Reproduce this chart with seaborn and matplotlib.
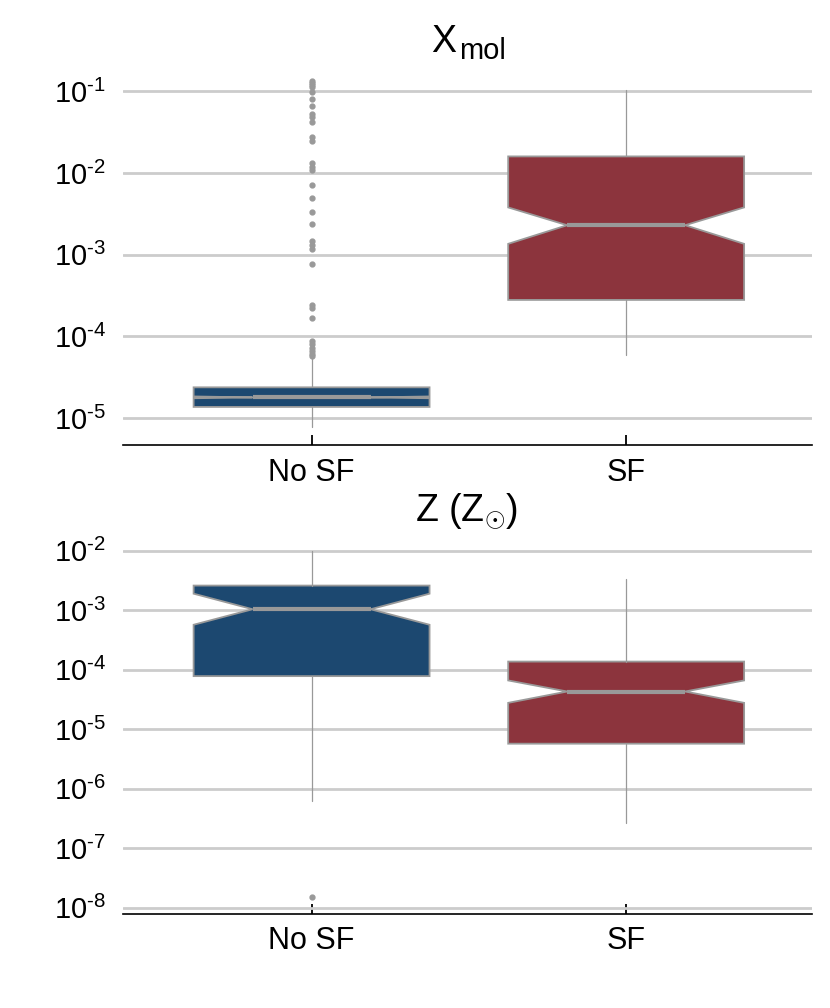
import math
import matplotlib
matplotlib.use("Agg")
import matplotlib.pyplot as plt
import matplotlib.ticker as mticker
import seaborn as sns

# groups and colours
groups = ["No SF", "SF"]
group_colors = ["#1c4870", "#8c343d"]

# X_mol box statistics
xmol_median = [1.79e-5, 2.3e-3]
xmol_q1 = [1.37e-5, 2.8e-4]
xmol_q3 = [2.38e-5, 1.6e-2]
xmol_whislo = [7.8e-6, 5.9e-5]
xmol_whishi = [5.4e-5, 0.105]
xmol_cilo = [1.75e-5, 1.36e-3]
xmol_cihi = [1.84e-5, 3.8e-3]
xmol_fliers_nosf = [0.135, 0.128, 0.12, 0.113, 0.098, 0.080, 0.066, 0.053, 0.048,
                    0.042, 0.028, 0.025, 0.0132, 0.012, 0.011, 0.0071, 0.0050,
                    0.0033, 0.0024, 0.00147, 0.0013, 0.00117, 7.7e-4, 2.4e-4,
                    2.2e-4, 1.7e-4, 8.9e-5, 8.0e-5, 7.2e-5, 6.6e-5, 6.1e-5, 5.8e-5]
xmol_fliers_sf = []
xmol_ticks = [1e-5, 1e-4, 1e-3, 1e-2, 1e-1]

# Z (Z_sun) box statistics
z_median = [1.04e-3, 4.3e-5]
z_q1 = [7.8e-5, 5.7e-6]
z_q3 = [2.6e-3, 1.37e-4]
z_whislo = [6.3e-7, 2.6e-7]
z_whishi = [1.0e-2, 3.4e-3]
z_cilo = [5.7e-4, 2.77e-5]
z_cihi = [1.9e-3, 6.6e-5]
z_fliers_nosf = [1.5e-8]
z_fliers_sf = []
z_ticks = [1e-8, 1e-7, 1e-6, 1e-5, 1e-4, 1e-3, 1e-2]


def make_stats(med, q1, q3, lo, hi, cilo, cihi, fliers):
    stats = []
    for i, name in enumerate(groups):
        stats.append(dict(label=name, med=med[i], q1=q1[i], q3=q3[i],
                          whislo=lo[i], whishi=hi[i], cilo=cilo[i],
                          cihi=cihi[i], fliers=fliers[i]))
    return stats


def log_fmt(val, pos):
    exp = int(round(math.log10(val)))
    return r"$\mathregular{10^{\text{-}%d}}$" % abs(exp)


sns.set_theme(style="whitegrid")
plt.rcParams["font.family"] = ["Liberation Sans", "DejaVu Sans"]
plt.rcParams["mathtext.fontset"] = "custom"
plt.rcParams["mathtext.rm"] = "Liberation Sans"
plt.rcParams["mathtext.it"] = "Liberation Sans:italic"
plt.rcParams["text.color"] = "black"
plt.rcParams["xtick.labelcolor"] = "black"
plt.rcParams["ytick.labelcolor"] = "black"

fig = plt.figure(figsize=(8.3, 10.08), dpi=100)
ax1 = fig.add_axes([0.148, 0.5585, 0.83, 0.367])
ax2 = fig.add_axes([0.148, 0.0933, 0.83, 0.367])

panels = [
    (ax1, make_stats(xmol_median, xmol_q1, xmol_q3, xmol_whislo, xmol_whishi,
                     xmol_cilo, xmol_cihi, [xmol_fliers_nosf, xmol_fliers_sf]),
     xmol_ticks, (10 ** -5.33, 10 ** -0.80)),
    (ax2, make_stats(z_median, z_q1, z_q3, z_whislo, z_whishi,
                     z_cilo, z_cihi, [z_fliers_nosf, z_fliers_sf]),
     z_ticks, (10 ** -8.108, 10 ** -1.886)),
]

gray = "#999999"

for ax, stats, ticks, ylim in panels:
    ax.set_yscale("log")
    bp = ax.bxp(stats, positions=[0, 1], widths=0.75, shownotches=True,
                showcaps=False, patch_artist=True,
                boxprops=dict(edgecolor=gray, linewidth=1.3),
                whiskerprops=dict(color=gray, linewidth=0.9),
                medianprops=dict(color=gray, linewidth=3),
                flierprops=dict(marker="o", markersize=3.5,
                                markerfacecolor=gray, markeredgecolor=gray,
                                linestyle="none"))
    for patch, c in zip(bp["boxes"], group_colors):
        patch.set_facecolor(c)
    ax.set_xlim(-0.6, 1.59)
    ax.set_ylim(*ylim)
    ax.set_xticks([0, 1])
    ax.set_xticklabels(groups)
    ax.set_yticks(ticks)
    ax.yaxis.set_minor_locator(mticker.NullLocator())
    ax.yaxis.set_major_formatter(mticker.FuncFormatter(log_fmt))
    ax.set_facecolor("white")
    ax.grid(axis="y", color="#cccccc", linewidth=2)
    ax.grid(axis="x", visible=False)
    for side in ["left", "right", "top"]:
        ax.spines[side].set_visible(False)
    ax.spines["bottom"].set_color("black")
    ax.spines["bottom"].set_linewidth(1.2)
    ax.tick_params(axis="x", direction="in", length=7, width=1.3,
                   color="black", labelsize=22, pad=9, bottom=True)
    ax.tick_params(axis="y", length=0, labelsize=21, pad=12)

# panel titles
fig.text(456 / 830, 1 - 52 / 1008, "X", fontsize=27, ha="right", va="baseline")
fig.text(459 / 830, 1 - 59 / 1008, "mol", fontsize=21, ha="left", va="baseline")
fig.text(466 / 830, 1 - 521 / 1008, r"Z (Z$_{\odot}$)", fontsize=27,
         ha="center", va="baseline")

fig.savefig("out.png", dpi=100, facecolor="white")
